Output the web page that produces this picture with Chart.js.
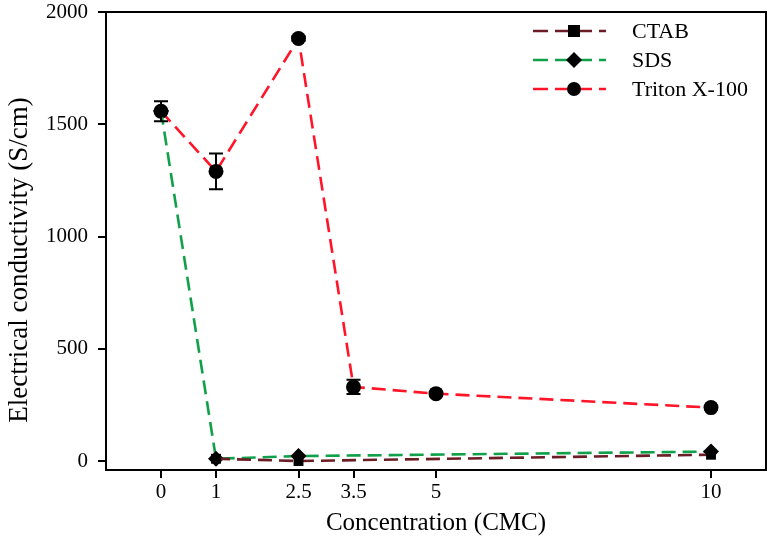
<!DOCTYPE html>
<html>
<head>
<meta charset="utf-8">
<script src="https://cdn.jsdelivr.net/npm/chart.js@4"></script>
<style>
  html, body { margin: 0; padding: 0; background: #fff; }
  #wrap { width: 774px; height: 538px; }
</style>
</head>
<body>
<div id="wrap"><canvas id="graphique"></canvas></div>
<script>
// valeurs
const xTicks = [0, 1, 2.5, 3.5, 5, 10];
const yTicks = [0, 500, 1000, 1500, 2000];

const ctabX = [1, 2.5, 10];
const ctabY = [10, 0, 28];

const sdsX = [0, 1, 2.5, 10];
const sdsY = [1560, 10, 22, 42];

const tritonX = [0, 1, 2.5, 3.5, 5, 10];
const tritonY = [1558, 1290, 1882, 330, 300, 238];
const tritonErr = [45, 80, 10, 32, 8, 8];

const titreY = "Electrical conductivity (S/cm)";
const police = "'Liberation Serif', 'Times New Roman', serif";

function points(xs, ys) {
    return xs.map((x, i) => ({ x: x, y: ys[i] }));
}

// barres d'erreur
const barresErreur = {
    id: "barresErreur",
    afterDatasetsDraw(chart) {
        const ctx = chart.ctx;
        const sx = chart.scales.x;
        const sy = chart.scales.y;
        ctx.save();
        ctx.strokeStyle = "#000";
        ctx.lineWidth = 2;
        for (let i = 0; i < tritonX.length; i++) {
            const px = sx.getPixelForValue(tritonX[i]);
            const haut = sy.getPixelForValue(tritonY[i] + tritonErr[i]);
            const bas = sy.getPixelForValue(tritonY[i] - tritonErr[i]);
            ctx.beginPath();
            ctx.moveTo(px, haut);
            ctx.lineTo(px, bas);
            ctx.moveTo(px - 7, haut);
            ctx.lineTo(px + 7, haut);
            ctx.moveTo(px - 7, bas);
            ctx.lineTo(px + 7, bas);
            ctx.stroke();
        }
        ctx.restore();
    }
};

// cadre, titre de l'axe y et légende
const cadre = {
    id: "cadre",
    afterDraw(chart) {
        const ctx = chart.ctx;
        const a = chart.chartArea;
        ctx.save();
        ctx.strokeStyle = "#000";
        ctx.lineWidth = 2;
        ctx.strokeRect(a.left, a.top, a.right - a.left, a.bottom - a.top);

        // titre vertical
        ctx.save();
        ctx.translate(20, 260);
        ctx.rotate(-Math.PI / 2);
        ctx.fillStyle = "#000";
        ctx.font = "27px " + police;
        ctx.textAlign = "center";
        ctx.textBaseline = "middle";
        ctx.fillText(titreY, 0, 0);
        ctx.restore();

        const lignes = chart.data.datasets;
        ctx.font = "22px " + police;
        ctx.textBaseline = "middle";
        for (let i = 0; i < lignes.length; i++) {
            const ds = lignes[i];
            const y = 31 + i * 29;
            ctx.strokeStyle = ds.borderColor;
            ctx.lineWidth = 2.4;
            ctx.setLineDash([15, 7]);
            ctx.beginPath();
            ctx.moveTo(533, y);
            ctx.lineTo(606, y);
            ctx.stroke();
            ctx.setLineDash([]);
            ctx.fillStyle = "#000";
            ctx.beginPath();
            if (ds.pointStyle === "rect") {
                ctx.rect(568, y - 6, 12, 12);
            } else if (ds.pointStyle === "rectRot") {
                ctx.moveTo(574, y - 8);
                ctx.lineTo(582, y);
                ctx.lineTo(574, y + 8);
                ctx.lineTo(566, y);
                ctx.closePath();
            } else {
                ctx.arc(574, y, 7, 0, Math.PI * 2);
            }
            ctx.fill();
            ctx.fillText(ds.label, 632, y + 1);
        }
        ctx.restore();
    }
};

const data = {
    datasets: [
        {
            label: "CTAB",
            data: points(ctabX, ctabY),
            borderColor: "#6b1c24",
            pointStyle: "rect",
            pointRadius: 7,
        },
        {
            label: "SDS",
            data: points(sdsX, sdsY),
            borderColor: "#11a04a",
            pointStyle: "rectRot",
            pointRadius: 8,
        },
        {
            label: "Triton X-100",
            data: points(tritonX, tritonY),
            borderColor: "#ff1428",
            pointStyle: "circle",
            pointRadius: 7.5,
        },
    ].map(ds => Object.assign(ds, {
        showLine: true,
        borderWidth: 2.6,
        borderDash: [14, 7],
        backgroundColor: "#000",
        pointBackgroundColor: "#000",
        pointBorderColor: "#000",
        pointBorderWidth: 0,
        tension: 0,
    })),
};

const config = {
    type: "scatter",
    data: data,
    plugins: [barresErreur, cadre],
    options: {
        responsive: true,
        maintainAspectRatio: false,
        animation: false,
        layout: { padding: { top: 12, right: 6, left: 0, bottom: 0 } },
        plugins: {
            legend: { display: false },
            tooltip: { enabled: false },
        },
        scales: {
            x: {
                type: "linear",
                min: -1,
                max: 11,
                afterBuildTicks: s => { s.ticks = xTicks.map(v => ({ value: v })); },
                afterFit: s => { s.height = 68; s.paddingLeft = 0; s.paddingRight = 0; },
                grid: { drawOnChartArea: false, color: "#000", lineWidth: 2, tickLength: 8 },
                border: { color: "#000", width: 2 },
                ticks: {
                    color: "#000",
                    font: { family: police, size: 21 },
                    padding: 2,
                    maxRotation: 0,
                    callback: v => String(v),
                },
                title: {
                    display: true,
                    text: "Concentration (CMC)",
                    color: "#000",
                    font: { family: police, size: 25 },
                    padding: { top: 0, bottom: 0 },
                },
            },
            y: {
                min: -40,
                max: 2000,
                afterBuildTicks: s => { s.ticks = yTicks.map(v => ({ value: v })); },
                afterFit: s => { s.width = 106; s.paddingTop = 0; s.paddingBottom = 0; },
                grid: { drawOnChartArea: false, color: "#000", lineWidth: 2, tickLength: 8 },
                border: { color: "#000", width: 2 },
                ticks: {
                    color: "#000",
                    font: { family: police, size: 21 },
                    padding: 10,
                    callback: v => String(v),
                },
            },
        },
    },
};

new Chart(document.querySelector("#graphique"), config);
</script>
</body>
</html>
